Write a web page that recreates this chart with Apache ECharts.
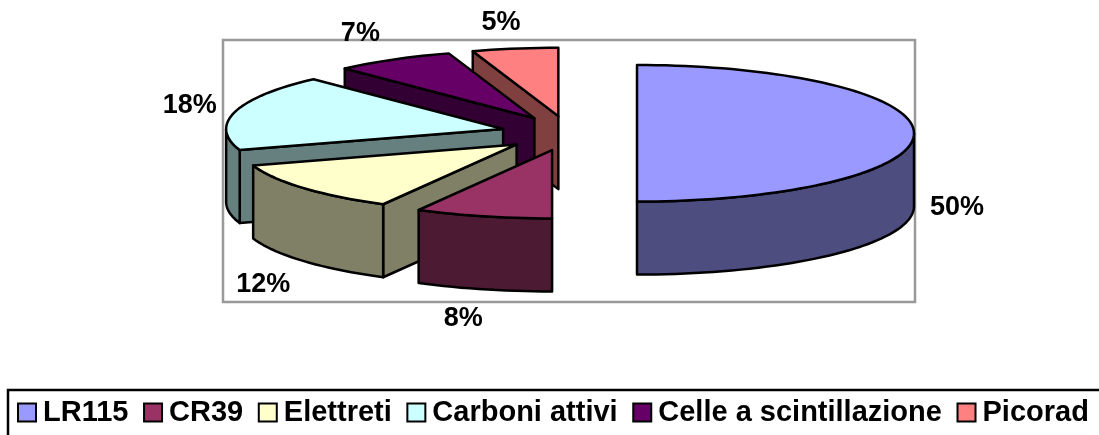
<!DOCTYPE html>
<html>
<head>
<meta charset="utf-8">
<title>Pie</title>
<style>
	html, body { margin: 0; padding: 0; background: #fff; }
	#main { width: 1099px; height: 435px; }
</style>
<script src="https://cdn.jsdelivr.net/npm/echarts@6/dist/echarts.min.js"></script>
</head>
<body>
<div id="main"></div>
<script>
	var categories = ['LR115', 'CR39', 'Elettreti', 'Carboni attivi', 'Celle a scintillazione', 'Picorad'];
	var values = [50, 8, 12, 18, 7, 5];
	var topColors = ['#9999FF', '#993366', '#FFFFCC', '#CCFFFF', '#660066', '#FF8080'];
	var sideColors = ['#4D4D80', '#4D1A33', '#808066', '#668080', '#330033', '#804040'];

	// pie geometry, slices are pulled out along their middle angle
	var cx = 569, cy = 133.3;
	var rx = 277, ry = 68.3, depth = 73;
	var explode = 68, explodeTilt = 0.2557;
	// label offset from the rim point of each slice
	var labelNudge = [[43, 74], [-20, 102], [-40, 97], [-45, -6], [-33, -26], [-14, -26]];

	var total = values.reduce(function (a, b) { return a + b; }, 0);

	function sliceAngles(idx) {
		var before = 0;
		for (var i = 0; i < idx; i++) {
			before += values[i];
		}
		return [before / total * 360, (before + values[idx]) / total * 360];
	}

	function rimPoint(apex, deg, drop) {
		var r = deg * Math.PI / 180;
		return [apex[0] + rx * Math.sin(r), apex[1] - ry * Math.cos(r) + (drop || 0)];
	}

	function arcPoints(apex, a0, a1, drop) {
		var pts = [];
		var n = Math.max(2, Math.ceil((a1 - a0) / 2));
		for (var i = 0; i <= n; i++) {
			pts.push(rimPoint(apex, a0 + (a1 - a0) * i / n, drop));
		}
		return pts;
	}

	function renderSlice(idx) {
		return function (params, api) {
			var ang = sliceAngles(idx);
			var a0 = ang[0], a1 = ang[1];
			var mid = (a0 + a1) / 2 * Math.PI / 180;
			var apex = [
				cx + explode * Math.sin(mid),
				cy - explode * explodeTilt * Math.cos(mid)
			];
			var lineStyle = { stroke: '#000', lineWidth: 2.5, lineJoin: 'round' };
			var side = Object.assign({ fill: sideColors[idx] }, lineStyle);
			var children = [];

			function wall(deg) {
				var p = rimPoint(apex, deg);
				children.push({
					type: 'polygon',
					shape: { points: [apex, p, [p[0], p[1] + depth], [apex[0], apex[1] + depth]] },
					style: side
				});
			}
			// radial cut faces, only those turned towards the viewer
			if (Math.sin(a0 * Math.PI / 180) < -1e-6) {
				wall(a0);
			}
			if (Math.sin(a1 * Math.PI / 180) > 1e-6) {
				wall(a1);
			}
			// outer wall, front half of the rim
			var f0 = Math.max(a0, 90), f1 = Math.min(a1, 270);
			if (f1 > f0) {
				children.push({
					type: 'polygon',
					shape: { points: arcPoints(apex, f0, f1, 0).concat(arcPoints(apex, f0, f1, depth).reverse()) },
					style: side
				});
			}
			children.push({
				type: 'polygon',
				shape: { points: [apex].concat(arcPoints(apex, a0, a1, 0)) },
				style: Object.assign({ fill: topColors[idx] }, lineStyle)
			});

			var rim = rimPoint(apex, (a0 + a1) / 2);
			children.push({
				type: 'text',
				z2: 10,
				style: {
					x: rim[0] + labelNudge[idx][0],
					y: rim[1] + labelNudge[idx][1],
					text: Math.round(api.value(0) / total * 100) + '%',
					fill: '#000',
					font: 'bold 27px "Liberation Sans", Arial, sans-serif',
					align: 'center',
					verticalAlign: 'middle'
				}
			});
			return { type: 'group', children: children };
		};
	}

	// drawn from the back slice to the front one
	var series = [];
	for (var i = values.length - 1; i >= 0; i--) {
		series.push({
			type: 'custom',
			name: categories[i],
			coordinateSystem: 'none',
			silent: true,
			itemStyle: { color: topColors[i], borderColor: '#000', borderWidth: 2.5 },
			renderItem: renderSlice(i),
			data: [[values[i]]]
		});
	}

	var myChart = echarts.init(document.getElementById('main'), null, { renderer: 'canvas' });
	myChart.setOption({
		animation: false,
		backgroundColor: '#fff',
		graphic: [
			{
				type: 'rect',
				z: 0,
				shape: { x: 223, y: 40, width: 692, height: 262 },
				style: { fill: '#fff', stroke: '#999', lineWidth: 2.5 }
			},
			{
				// legend box runs off the page on the right and at the bottom
				type: 'rect',
				z: 0,
				shape: { x: 8, y: 390, width: 1200, height: 100 },
				style: { fill: '#fff', stroke: '#000', lineWidth: 2.5 }
			}
		],
		legend: {
			data: categories,
			left: 12,
			top: 393,
			padding: 5,
			icon: 'rect',
			itemWidth: 18,
			itemHeight: 18,
			itemGap: 14.6,
			selectedMode: false,
			textStyle: {
				color: '#000',
				fontSize: 29,
				fontWeight: 'bold',
				fontFamily: '"Liberation Sans", Arial, sans-serif',
				padding: [0, 0, 0, 2]
			}
		},
		series: series
	});
</script>
</body>
</html>
